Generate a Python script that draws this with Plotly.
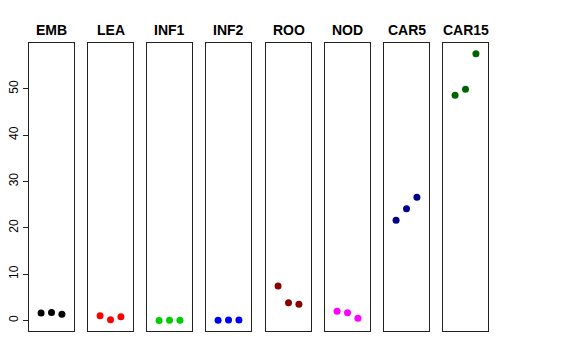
import plotly.graph_objects as go

panels = ["EMB", "LEA", "INF1", "INF2", "ROO", "NOD", "CAR5", "CAR15"]
colors = ["#000000", "#FF0000", "#00CD00", "#0000FF", "#8B0000", "#FF00FF", "#00008B", "#006400"]
x_pos = [1, 2, 3]
emb = [1.6, 1.7, 1.3]
lea = [1.0, 0.15, 0.8]
inf1 = [-0.05, 0.0, 0.0]
inf2 = [0.0, 0.05, 0.1]
roo = [7.4, 3.8, 3.5]
nod = [1.95, 1.65, 0.45]
car5 = [21.6, 24.1, 26.6]
car15 = [48.6, 49.9, 57.6]
series = [emb, lea, inf1, inf2, roo, nod, car5, car15]
y_ticks = [0, 10, 20, 30, 40, 50]

W, H = 576, 360
left, right, top, bottom = 29, 488, 43, 331
starts = [29, 88, 147, 206, 266, 325, 384, 443]
pw = 45
total = right - left

fig = go.Figure()
layout = dict(
    width=W, height=H,
    margin=dict(l=left, r=W - right, t=top, b=H - bottom, pad=0, autoexpand=False),
    paper_bgcolor="white", plot_bgcolor="white",
    showlegend=False,
    font=dict(family="Liberation Sans, Arial, sans-serif", size=12, color="black"),
)
annotations = []
ymin = -2.3
ymax = 59.9
for i, (name, vals, col) in enumerate(zip(panels, series, colors)):
    xa = "x" if i == 0 else f"x{i+1}"
    ya = "y" if i == 0 else f"y{i+1}"
    fig.add_trace(go.Scatter(x=x_pos, y=vals, mode="markers", xaxis=xa, yaxis=ya,
                             marker=dict(color=col, size=7, line=dict(width=0))))
    d0 = (starts[i] - left) / total
    d1 = (starts[i] + pw - left) / total
    key_x = "xaxis" if i == 0 else f"xaxis{i+1}"
    key_y = "yaxis" if i == 0 else f"yaxis{i+1}"
    layout[key_x] = dict(domain=[d0, min(d1, 1)], range=[-0.16, 4.16], showgrid=False,
                         zeroline=False, showticklabels=False, ticks="", automargin=False,
                         showline=True, mirror=True, linecolor="#222222", linewidth=1,
                         anchor=ya, fixedrange=True)
    ycfg = dict(range=[ymin, ymax], showgrid=False, zeroline=False, automargin=False,
                showline=True, mirror=True, linecolor="#222222", linewidth=1,
                anchor=xa, domain=[0, 1], fixedrange=True)
    if i == 0:
        ycfg.update(tickvals=y_ticks, ticktext=[str(t) for t in y_ticks], ticks="outside",
                    ticklen=5, tickcolor="#222222", tickangle=-90,
                    tickfont=dict(size=12, color="black"))
    else:
        ycfg.update(showticklabels=False, ticks="")
    layout[key_y] = ycfg
    annotations.append(dict(text=f"<b>{name}</b>", x=(d0 + d1) / 2, y=1, xref="paper", yref="paper",
                            xanchor="center", yanchor="bottom", yshift=3, showarrow=False,
                            font=dict(size=14, color="black")))
layout["annotations"] = annotations
fig.update_layout(**layout)
fig.write_html("out.html", config={"displayModeBar": False, "staticPlot": True},
               post_script="document.body.style.margin='0';")
